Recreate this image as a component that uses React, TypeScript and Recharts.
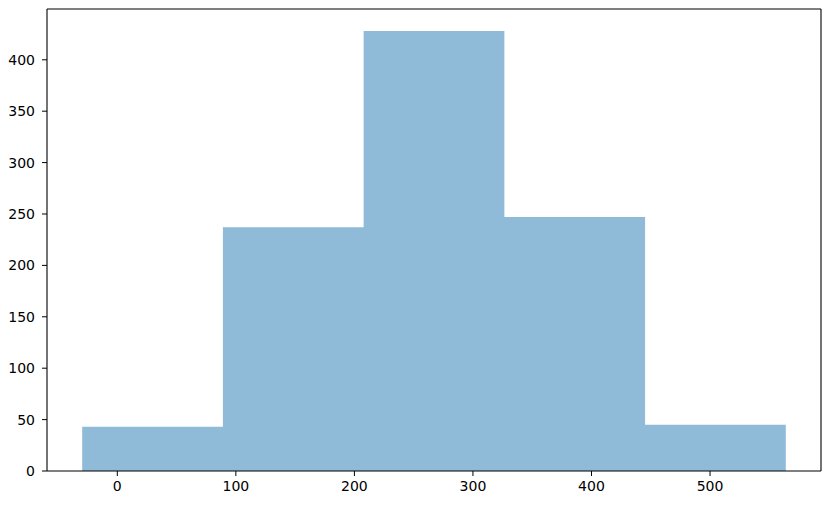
import { ComposedChart, Area, XAxis, YAxis, ReferenceLine } from "recharts";

// histogram bins
const binEdges = [-29.6, 89.1, 207.8, 326.5, 445.2, 563.9];
const counts = [43, 237, 428, 247, 45];
const xTicks = [0, 100, 200, 300, 400, 500];
const yTicks = [0, 50, 100, 150, 200, 250, 300, 350, 400];
const xDomain: [number, number] = [-59.3, 593.6];
const yDomain: [number, number] = [0, 449.4];

// stepAfter area: one point per edge, last edge repeats the last count
const data = binEdges.map((x, i) => ({ x, count: counts[Math.min(i, counts.length - 1)] }));

const FONT = "DejaVu Sans, sans-serif";
const spine = { stroke: "#000", strokeWidth: 1.1 };

const XTick = (props: any) => {
  const { x, y, payload } = props;
  return (
    <text x={x} y={y + 15} textAnchor="middle" fontFamily={FONT} fontSize={14} fill="#000">
      {payload.value}
    </text>
  );
};

const YTick = (props: any) => {
  const { x, y, payload } = props;
  return (
    <text x={x} y={y + 5} textAnchor="end" fontFamily={FONT} fontSize={14} fill="#000">
      {payload.value}
    </text>
  );
};

export default function App() {
  return (
    <div style={{ margin: -8, background: "#fff" }}>
      <ComposedChart width={831} height={505} data={data} margin={{ top: 9, right: 10, bottom: 0, left: 0 }}>
        <XAxis
          type="number" dataKey="x" domain={xDomain} ticks={xTicks} allowDataOverflow
          height={34} tick={<XTick />} tickSize={5} tickMargin={0} stroke="#000"
          axisLine={spine} tickLine={{ stroke: "#000" }}
        />
        <YAxis
          type="number" domain={yDomain} ticks={yTicks} allowDataOverflow
          width={47} tick={<YTick />} tickSize={5} tickMargin={7} stroke="#000"
          axisLine={spine} tickLine={{ stroke: "#000" }}
        />
        <Area type="stepAfter" dataKey="count" fill="#1f77b4" fillOpacity={0.5} stroke="none" isAnimationActive={false} dot={false} activeDot={false} />
        <ReferenceLine y={yDomain[1]} stroke="#000" strokeWidth={1.1} ifOverflow="visible" />
        <ReferenceLine x={xDomain[1]} stroke="#000" strokeWidth={1.1} ifOverflow="visible" />
      </ComposedChart>
    </div>
  );
}
